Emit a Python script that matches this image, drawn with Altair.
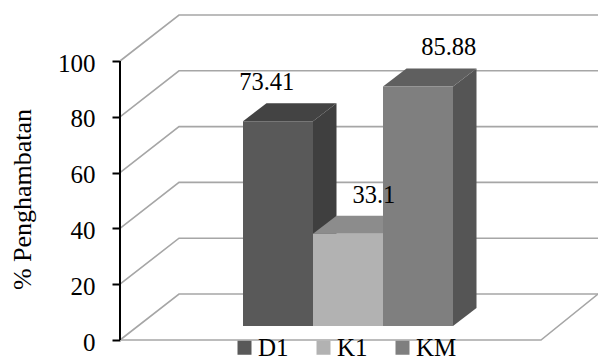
import altair as alt
import pandas as pd

# Percentage inhibition per treatment
categories = ["D1", "K1", "KM"]
values = [73.41, 33.1, 85.88]
value_labels = ["73.41", "33.1", "85.88"]
y_ticks = [0, 20, 40, 60, 80, 100]

# Face shades of each column
front_colors = ["#595959", "#b2b2b2", "#7f7f7f"]
top_colors = ["#434343", "#8c8c8c", "#5f5f5f"]
side_colors = ["#3f3f3f", "#7f7f7f", "#555555"]
label_nudge = [-0.16, 0.37, 0.44]  # horizontal label shift, in column widths

SERIF = "Liberation Serif"
GRID = "#a6a6a6"

# Oblique projection: x is in column widths, y is in percent
X_MAX = 478 / 70
Y_MAX = 340 / 2.79
WALL_DX, WALL_DY = 59 / 70, 46 / 2.79
BAR_DX, BAR_DY = 23.5 / 70, 18 / 2.79
BAR_X0, BAR_Y0 = 123 / 70, 14 / 2.79
FLOOR_FRONT_END = 421 / 70

x_scale = alt.Scale(domain=[0, X_MAX], nice=False, zero=False)
y_scale = alt.Scale(domain=[0, Y_MAX], nice=False, zero=False)

y_axis = alt.Axis(
    values=y_ticks,
    domain=False,
    grid=False,
    tickColor="black",
    tickWidth=2,
    tickSize=8,
    labelFont=SERIF,
    labelFontSize=25,
    labelColor="black",
    labelPadding=17,
    labelOffset=2,
    titleFont=SERIF,
    titleFontSize=26,
    titleFontWeight="normal",
    titleColor="black",
    titleX=-85,
    titleY=199,
)


def y_enc(**kwargs):
    return alt.Y("y:Q", scale=y_scale, axis=y_axis, title="% Penghambatan", **kwargs)


grid_rows = []
for t in y_ticks:
    grid_rows += [
        {"id": f"g{t}", "o": 0, "x": 0, "y": t},
        {"id": f"g{t}", "o": 1, "x": WALL_DX, "y": t + WALL_DY},
        {"id": f"g{t}", "o": 2, "x": X_MAX, "y": t + WALL_DY},
    ]
grid_rows += [
    {"id": "floor", "o": 0, "x": 0, "y": 0},
    {"id": "floor", "o": 1, "x": FLOOR_FRONT_END, "y": 0},
    {"id": "floor", "o": 2, "x": X_MAX, "y": WALL_DY},
]
grid_df = pd.DataFrame(grid_rows)

front_rows, top_rows, side_rows, label_rows = [], [], [], []
for i, (cat, val, lab) in enumerate(zip(categories, values, value_labels)):
    x0 = BAR_X0 + i
    x1 = x0 + 1
    y_top = BAR_Y0 + val
    front_rows.append({"cat": cat, "x": x0, "x2": x1, "y": BAR_Y0, "y2": y_top})
    top_rows += [
        {"cat": cat, "fill": top_colors[i], "y": y_top, "x": x0, "x2": x1},
        {"cat": cat, "fill": top_colors[i], "y": y_top + BAR_DY, "x": x0 + BAR_DX, "x2": x1 + BAR_DX},
    ]
    side_rows += [
        {"cat": cat, "fill": side_colors[i], "x": x1, "y": BAR_Y0, "y2": y_top},
        {"cat": cat, "fill": side_colors[i], "x": x1 + BAR_DX, "y": BAR_Y0 + BAR_DY, "y2": y_top + BAR_DY},
    ]
    label_rows.append({"x": x0 + 0.5 + label_nudge[i], "y": y_top, "label": lab})

x_none = alt.X("x:Q", scale=x_scale, axis=None)

grid = alt.Chart(grid_df).mark_line(color=GRID, strokeWidth=1.6).encode(
    x=x_none,
    y=y_enc(),
    detail="id:N",
    order="o:Q",
)

axis_line = alt.Chart(pd.DataFrame({"x": [0, 0], "y": [min(y_ticks), max(y_ticks)]})).mark_line(
    color="black", strokeWidth=2
).encode(x=x_none, y=y_enc())

sides = alt.Chart(pd.DataFrame(side_rows)).mark_area(orient="vertical").encode(
    x=x_none,
    y=y_enc(stack=None),
    y2="y2:Q",
    detail="cat:N",
    fill=alt.Fill("fill:N", scale=None),
)

tops = alt.Chart(pd.DataFrame(top_rows)).mark_area(orient="horizontal").encode(
    y=y_enc(),
    x=alt.X("x:Q", scale=x_scale, axis=None, stack=None),
    x2="x2:Q",
    detail="cat:N",
    fill=alt.Fill("fill:N", scale=None),
)

fronts = alt.Chart(pd.DataFrame(front_rows)).mark_rect().encode(
    x=x_none,
    x2="x2:Q",
    y=y_enc(),
    y2="y2:Q",
    color=alt.Color(
        "cat:N",
        scale=alt.Scale(domain=categories, range=front_colors),
        legend=alt.Legend(
            title=None,
            orient="none",
            legendX=112,
            legendY=335,
            direction="horizontal",
            columns=3,
            symbolType="square",
            symbolSize=196,
            symbolStrokeWidth=0,
            labelFont=SERIF,
            labelFontSize=25,
            labelColor="black",
            labelOffset=1,
            columnPadding=22,
            padding=0,
        ),
    ),
)

labels = alt.Chart(pd.DataFrame(label_rows)).mark_text(
    font=SERIF, fontSize=24.5, color="black", dy=-38, baseline="middle"
).encode(
    x=x_none,
    y=y_enc(),
    text="label:N",
)

chart = (
    alt.layer(grid, axis_line, sides, tops, fronts, labels)
    .resolve_scale(fill="independent", color="independent")
    .properties(
        width=478,
        height=340,
        autosize=alt.AutoSizeParams(type="none"),
        padding={"left": 120, "top": 0, "right": 0, "bottom": 16},
        background="white",
    )
    .configure_view(stroke=None)
)

chart.save("out.html", embed_options={"renderer": "svg", "actions": False})
